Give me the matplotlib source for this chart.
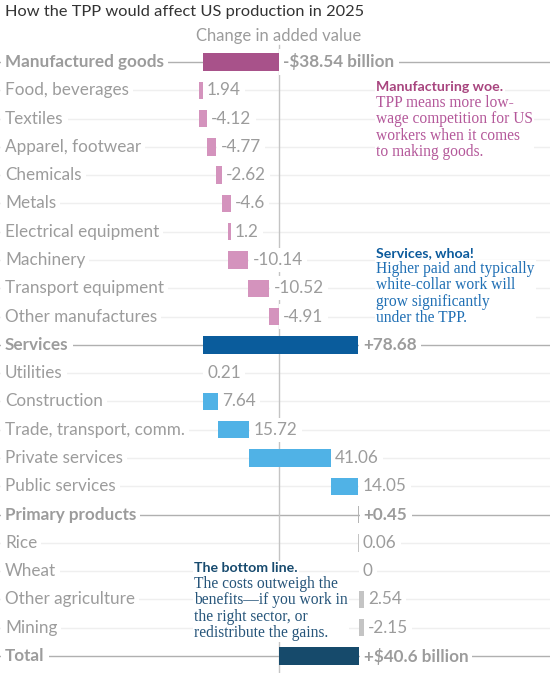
import numpy as np
import matplotlib
matplotlib.use("Agg")
from matplotlib import pyplot as plt
from matplotlib import transforms

# data (billion US$, change in added value)
mfg_total = -38.54
mfg_names = ["Food, beverages", "Textiles", "Apparel, footwear", "Chemicals", "Metals",
             "Electrical equipment", "Machinery", "Transport equipment", "Other manufactures"]
mfg_vals = [1.94, -4.12, -4.77, -2.62, -4.6, 1.2, -10.14, -10.52, -4.91]

srv_total = 78.68
srv_names = ["Utilities", "Construction", "Trade, transport, comm.", "Private services", "Public services"]
srv_vals = [0.21, 7.64, 15.72, 41.06, 14.05]

pri_total = 0.45
pri_names = ["Rice", "Wheat", "Other agriculture", "Mining"]
pri_vals = [0.06, 0, 2.54, -2.15]

grand_total = 40.6

mfg_labels = ["-$38.54 billion"] + ["%g" % v for v in mfg_vals]
srv_labels = ["+78.68"] + ["%g" % v for v in srv_vals]
pri_labels = ["+0.45"] + ["%g" % v for v in pri_vals]
total_label = "+$40.6 billion"

BG = "white"
GREY = "#9c9c9c"

plt.rcParams['font.family'] = ['Lato', 'DejaVu Sans']

fig = plt.figure(figsize=(5.5, 6.73), dpi=100, facecolor=BG)
ax = fig.add_axes([0, 0, 1, 1])
ax.set_facecolor(BG)
ax.axis("off")

# layout: zero at x=279, ~1.98 px per billion, rows 28.3 px apart
pxu = 1.98
ax.set_xlim(-279 / pxu, 271 / pxu)
row_h = 28.29
ax.set_ylim(21 + (673 - 656) / row_h, -62 / row_h)

rows = []  # (name, start, end, color, bold, label)
# manufacturing: sub items stack up from zero, read bottom to top
rows.append(("Manufactured goods", 0, mfg_total, "#a8528a", True, mfg_labels[0]))
for i, (n, v) in enumerate(zip(mfg_names, mfg_vals)):
    start = sum(mfg_vals[i + 1:])
    rows.append((n, start, start + v, "#d493bd", False, mfg_labels[i + 1]))

base = mfg_total
rows.append(("Services", base, base + srv_total, "#0a5c9c", True, srv_labels[0]))
c = base
for n, v, lab in zip(srv_names, srv_vals, srv_labels[1:]):
    rows.append((n, c, c + v, "#50b2e6", False, lab))
    c += v

base = base + srv_total
rows.append(("Primary products", base, base + pri_total, "#b5b5b5", True, pri_labels[0]))
c = base
for n, v, lab in zip(pri_names, pri_vals, pri_labels[1:]):
    rows.append((n, c, c + v, "#c4c4c4", False, lab))
    c += v

rows.append(("Total", 0, grand_total, "#164a6b", True, total_label))

left = transforms.blended_transform_factory(ax.transAxes, ax.transData)

ax.plot([0, 0], [-62 / row_h + 45 / row_h, 22], color="#c4c4c4", lw=1, zorder=1)

for y, (name, s, e, col, bold, lab) in enumerate(rows):
    ax.axhline(y, color="#b0b0b0" if bold else "#efefef", lw=1, zorder=0)
    lo, hi = min(s, e), max(s, e)
    ax.barh(y, hi - lo, left=lo, height=0.62, color=col, zorder=6 if name == "Total" else 2)
    ax.text(0.009, y, name, transform=left, ha="left", va="center",
            fontsize=12.3, color=GREY, fontweight="bold" if bold else "normal",
            bbox=dict(facecolor=BG, edgecolor="none", pad=3), zorder=3)
    ax.text(hi + 2.2, y, lab, ha="left", va="center", fontsize=12.3, color=GREY,
            fontweight="bold" if bold else "normal",
            bbox=dict(facecolor=BG, edgecolor="none", pad=3), zorder=3)

# titles
fig.text(0.009, 1 - 12 / 673, "How the TPP would affect US production in 2025",
         ha="left", va="center", fontsize=11.8, color="#333333")
fig.text(279 / 550, 1 - 36 / 673, "Change in added value", ha="center", va="center",
         fontsize=12, color=GREY)

# annotations
notes = [
    (376, 87, "Manufacturing woe.", "TPP means more low-\nwage competition for US\nworkers when it comes\nto making goods.",
     "#a8457f", "#b4589a"),
    (376, 253, "Services, whoa!", "Higher paid and typically\nwhite-collar work will\ngrow significantly\nunder the TPP.",
     "#0b5a9c", "#1f6fb4"),
    (194, 568, "The bottom line.", "The costs outweigh the\nbenefits\u2014if you work in\nthe right sector, or\nredistribute the gains.",
     "#174a6e", "#26557a"),
]
for xp, yp, head, body, hc, bc in notes:
    fig.text(xp / 550, 1 - yp / 673, head, ha="left", va="center", fontsize=10.2,
             fontweight="bold", color=hc, zorder=4,
             bbox=dict(facecolor=BG, edgecolor="none", pad=1))
    fig.text(xp / 550, 1 - (yp + 8) / 673, body, ha="left", va="top", fontsize=11.2,
             family=["Liberation Serif", "DejaVu Serif"], color=bc, linespacing=1.03, zorder=5,
             bbox=dict(facecolor=BG, edgecolor="none", pad=1))

fig.savefig("out.png", dpi=100, facecolor=BG)
